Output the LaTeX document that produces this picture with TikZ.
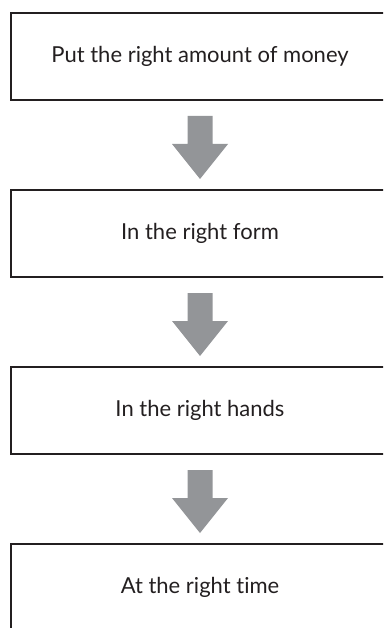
\documentclass[tikz,border=0pt]{standalone}
\usepackage{fontspec}
\setmainfont{Lato}[Ligatures={NoCommon}]
\usetikzlibrary{calc}
\definecolor{boxline}{HTML}{231F20}
\definecolor{arrowgray}{HTML}{939598}
\begin{document}
\begin{tikzpicture}[x=1pt,y=-1pt,
  stepbox/.style={draw=boxline, line width=2pt, minimum width=378pt, minimum height=87pt,
    inner sep=0pt, font=\fontsize{22}{26}\selectfont, text=boxline},
  flowarrow/.style={fill=arrowgray}]
\useasboundingbox (0,0) rectangle (383,628);
\clip (0,0) rectangle (383,628);
\node[stepbox] (b1) at (200,56.5) {Put the right amount of money};
\node[stepbox] (b2) at (200,233.5) {In the right form};
\node[stepbox] (b3) at (200,410.5) {In the right hands};
\node[stepbox] (b4) at (200,587.5) {At the right time};
\foreach \a/\b in {b1/b2,b2/b3,b3/b4}{
  \fill[flowarrow] ($(\a.south)+(-12.5,15)$) -- ($(\a.south)+(12.5,15)$)
    -- ($(\a.south)+(12.5,43)$) -- ($(\a.south)+(28,43)$)
    -- ($(\b.north)+(0,-10)$)
    -- ($(\a.south)+(-28,43)$) -- ($(\a.south)+(-12.5,43)$) -- cycle;
}
\end{tikzpicture}
\end{document}
